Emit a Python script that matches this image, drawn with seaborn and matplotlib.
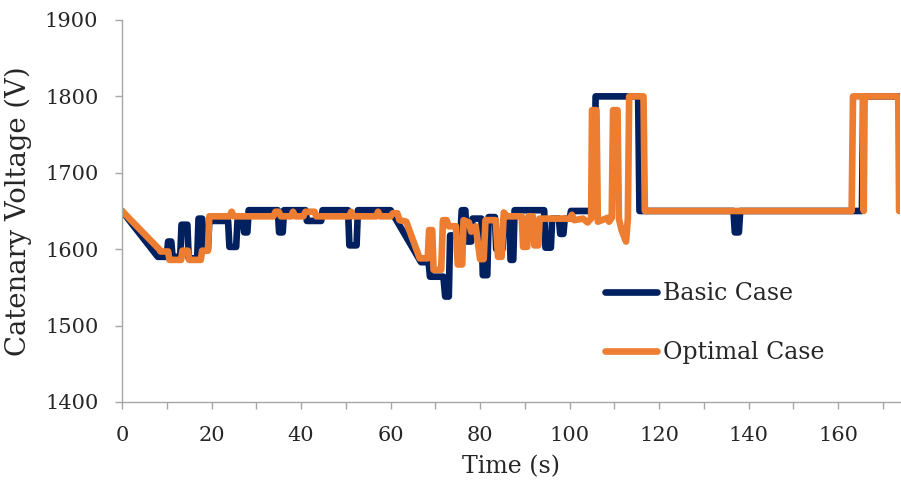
import numpy as np
import pandas as pd
import matplotlib
matplotlib.use("Agg")
import matplotlib.pyplot as plt
import seaborn as sns

# --------------------------------------------------
# DATA
# --------------------------------------------------

basic_t = [0, 8, 10, 10.3, 11, 11.3, 13, 13.3, 14.6, 14.9, 16.8, 17.1, 17.9, 18.2,
           19.2, 19.5, 23.7, 24, 25.5, 25.8, 27, 27.3, 28, 28.3, 34.8, 35.1, 35.9,
           36.2, 41, 41.3, 44.5, 44.8, 50.5, 50.8, 52.4, 52.7, 60, 66.8, 68.5, 68.8,
           71.8, 72.2, 73, 73.3, 75.6, 75.9, 76.7, 77, 78, 78.3, 80.3, 80.6, 81.6,
           81.9, 83.3, 83.6, 85, 85.3, 86.5, 86.8, 87.4, 87.7, 94.3, 94.6, 95.8,
           96.1, 97.6, 97.9, 98.6, 98.9, 100, 100.3, 105.5, 105.8, 115.3, 115.6,
           136.6, 136.9, 137.8, 138.1, 165.3, 165.6, 174]
basic_v = [1650, 1590, 1590, 1610, 1610, 1590, 1590, 1632, 1632, 1588, 1588, 1640,
           1640, 1600, 1600, 1637, 1637, 1603, 1603, 1637, 1637, 1622, 1622, 1651,
           1651, 1622, 1622, 1651, 1651, 1637, 1637, 1651, 1651, 1605, 1605, 1651,
           1651, 1583, 1583, 1564, 1564, 1538, 1538, 1618, 1618, 1651, 1651, 1610,
           1610, 1640, 1640, 1566, 1566, 1642, 1642, 1600, 1600, 1640, 1640, 1586,
           1586, 1651, 1651, 1602, 1602, 1640, 1640, 1620, 1620, 1640, 1640, 1650,
           1650, 1800, 1800, 1650, 1650, 1622, 1622, 1650, 1650, 1800, 1800]

optimal_t = [0, 7.8, 8.3, 8.6, 10.3, 10.6, 13.2, 13.5, 14.7, 15, 17.6, 17.9, 19.2,
             19.5, 24, 24.5, 25, 33.8, 34.3, 35, 35.5, 37.8, 38.2, 38.7, 40.5, 41,
             43, 43.4, 50.8, 51.2, 51.7, 56.8, 57.2, 57.7, 60, 60.5, 61.5, 62, 63.5,
             66.5, 68.3, 68.6, 69.3, 69.6, 71.3, 71.7, 72.5, 73, 74.6, 75, 76, 76.3,
             77.5, 78, 79, 80, 80.8, 81.2, 83.5, 84, 84.8, 85.3, 86, 89.3, 89.6,
             90.5, 90.8, 91.8, 92.1, 93, 93.3, 100, 100.5, 101, 103, 104, 104.8,
             105.0, 106.0, 106.3, 108.5, 108.8, 109.4, 109.7, 110.7, 111.0, 111.6,
             112.6, 113.0, 113.3, 116.5, 116.8, 163.0, 163.3, 165.5, 165.7, 165.9,
             173.4, 173.6, 174]
optimal_v = [1650, 1603, 1600, 1597, 1597, 1586, 1586, 1598, 1598, 1586, 1586, 1598,
             1598, 1643, 1643, 1649, 1643, 1643, 1649, 1649, 1643, 1643, 1649, 1643,
             1643, 1649, 1649, 1643, 1643, 1649, 1643, 1643, 1649, 1643, 1643, 1647,
             1647, 1638, 1636, 1588, 1588, 1625, 1625, 1573, 1573, 1638, 1638, 1630,
             1630, 1580, 1580, 1638, 1635, 1623, 1630, 1587, 1587, 1638, 1638, 1590,
             1590, 1648, 1643, 1643, 1603, 1603, 1643, 1643, 1605, 1605, 1640, 1640,
             1645, 1638, 1640, 1635, 1640, 1782, 1782, 1636, 1641, 1636, 1641, 1782,
             1782, 1640, 1625, 1610, 1640, 1800, 1800, 1650, 1650, 1800, 1800, 1650,
             1800, 1800, 1650, 1650]

x_ticks = list(range(0, 180, 10))
y_ticks = [1400, 1500, 1600, 1700, 1800, 1900]

NAVY = "#002060"
ORANGE = "#ED7D31"
GREY = "#A6A6A6"

# --------------------------------------------------
# STYLE
# --------------------------------------------------

sns.set_style("white")
plt.rcParams['font.family'] = ['DejaVu Serif']

fig = plt.figure(figsize=(9.01, 4.91), dpi=100)
ax = fig.add_axes([0.1354, 0.1813, 0.8635, 0.7780])

basic = pd.DataFrame({"t": basic_t, "v": basic_v})
optimal = pd.DataFrame({"t": optimal_t, "v": optimal_v})

line_kw = dict(sort=False, estimator=None, linewidth=4.8,
               solid_capstyle="round", solid_joinstyle="round")
sns.lineplot(data=basic, x="t", y="v", color=NAVY, label="Basic Case", ax=ax, **line_kw)
sns.lineplot(data=optimal, x="t", y="v", color=ORANGE, label="Optimal Case", ax=ax, **line_kw)

ax.set_xlim(0, 173.8)
ax.set_ylim(1400, 1900)
ax.set_xticks(x_ticks)
ax.set_xticklabels([str(t) if t % 20 == 0 else "" for t in x_ticks])
ax.set_yticks(y_ticks)

ax.set_xlabel("Time (s)", fontsize=17, labelpad=7)
ax.set_ylabel("Catenary Voltage (V)", fontsize=19.8, labelpad=9)

for side in ["top", "right"]:
    ax.spines[side].set_visible(False)
for side in ["left", "bottom"]:
    ax.spines[side].set_color(GREY)
    ax.spines[side].set_linewidth(1.0)

ax.tick_params(axis="x", direction="out", length=5, width=1, color=GREY,
               labelsize=15, pad=12.5, bottom=True)
ax.tick_params(axis="y", direction="out", length=5, width=1, color=GREY,
               labelsize=15, pad=12, left=True)

ax.legend(loc="center left", bbox_to_anchor=(0.621, 0.207), frameon=False,
          fontsize=17, handlelength=2.2, handletextpad=0.25, labelspacing=1.53,
          borderpad=0, borderaxespad=0)

fig.savefig("out.png", dpi=100)
